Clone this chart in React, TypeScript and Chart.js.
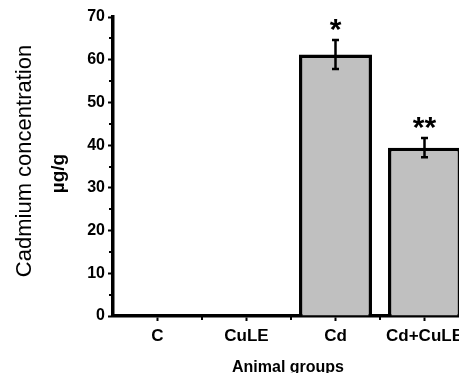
import React, { useEffect, useRef } from "react";
import { Chart, registerables } from "chart.js";

Chart.register(...registerables);

const categories = ["C", "CuLE", "Cd", "Cd+CuLE"];
const values = [0, 0, 61.2, 39.4];
const errors = [0, 0, 3.4, 2.25];
const marks = ["", "", "*", "**"];
const yTicks = [0, 10, 20, 30, 40, 50, 60, 70];
const yMinorTicks = [5, 15, 25, 35, 45, 55, 65];

const FONT = "'Liberation Sans', Arial, sans-serif";

const extrasPlugin = {
  id: "extras",
  afterDatasetsDraw(chart: any) {
    const ctx = chart.ctx;
    const y = chart.scales.y;
    const meta = chart.getDatasetMeta(0);
    ctx.save();
    ctx.strokeStyle = "#000";
    ctx.lineWidth = 2.5;
    meta.data.forEach((bar: any, i: number) => {
      const e = errors[i];
      if (!e) return;
      const cx = bar.x;
      const top = y.getPixelForValue(values[i] + e);
      const bot = y.getPixelForValue(values[i] - e);
      ctx.beginPath();
      ctx.moveTo(cx, top);
      ctx.lineTo(cx, bot);
      ctx.moveTo(cx - 3.5, top);
      ctx.lineTo(cx + 3.5, top);
      ctx.moveTo(cx - 3.5, bot);
      ctx.lineTo(cx + 3.5, bot);
      ctx.stroke();
      const m = marks[i];
      if (m) {
        ctx.fillStyle = "#000";
        ctx.font = "bold 30px " + FONT;
        ctx.textAlign = "center";
        ctx.textBaseline = "alphabetic";
        const tm = ctx.measureText(m);
        const desiredBottom = top - 9;
        ctx.fillText(m, cx, desiredBottom - tm.actualBoundingBoxDescent);
      }
    });
    ctx.restore();
  },
  afterDraw(chart: any) {
    const ctx = chart.ctx;
    const x = chart.scales.x;
    const y = chart.scales.y;
    const area = chart.chartArea;
    ctx.save();
    ctx.strokeStyle = "#000";
    ctx.lineWidth = 2;
    yMinorTicks.forEach((v) => {
      const py = Math.round(y.getPixelForValue(v));
      ctx.beginPath();
      ctx.moveTo(area.left - 4, py);
      ctx.lineTo(area.left, py);
      ctx.stroke();
    });
    for (let i = 1; i < categories.length; i++) {
      const px = (x.getPixelForValue(i - 1) + x.getPixelForValue(i)) / 2;
      ctx.beginPath();
      ctx.moveTo(px, area.bottom);
      ctx.lineTo(px, area.bottom + 4);
      ctx.stroke();
    }
    ctx.fillStyle = "#000";
    ctx.save();
    ctx.translate(31, 161);
    ctx.rotate(-Math.PI / 2);
    ctx.font = "22px " + FONT;
    ctx.textAlign = "center";
    ctx.textBaseline = "alphabetic";
    ctx.fillText("Cadmium concentration", 0, 0);
    ctx.restore();
    ctx.save();
    ctx.translate(64, 173.5);
    ctx.rotate(-Math.PI / 2);
    ctx.font = "bold 19px " + FONT;
    ctx.textAlign = "center";
    ctx.textBaseline = "alphabetic";
    ctx.fillText("µg/g", 0, 0);
    ctx.restore();
    ctx.font = "bold 16px " + FONT;
    ctx.textAlign = "center";
    ctx.textBaseline = "alphabetic";
    ctx.fillText("Animal groups", 288, 372);
    ctx.restore();
  },
};

export default function App() {
  const ref = useRef<HTMLCanvasElement | null>(null);
  useEffect(() => {
    if (!ref.current) return;
    const chart = new Chart(ref.current, {
      type: "bar",
      data: {
        labels: categories,
        datasets: [
          {
            data: values,
            backgroundColor: "#c0c0c0",
            borderColor: "#000",
            borderWidth: 3.5,
            borderSkipped: "start",
            barPercentage: 0.82,
            categoryPercentage: 1,
          },
        ],
      },
      options: {
        animation: false,
        responsive: false,
        devicePixelRatio: 1,
        layout: { padding: { left: 0, top: 17, right: 11, bottom: 0 } },
        plugins: {
          legend: { display: false },
          tooltip: { enabled: false },
        },
        scales: {
          x: {
            offset: true,
            grid: {
              offset: false,
              drawOnChartArea: false,
              drawTicks: true,
              tickLength: 5,
              tickWidth: 2,
              tickColor: "#000",
            },
            border: { display: true, color: "#000", width: 3.5 },
            ticks: {
              color: "#000",
              font: { family: FONT, size: 17, weight: "bold" },
              padding: 5,
              maxRotation: 0,
              autoSkip: false,
            },
            afterFit: (scale: any) => {
              scale.height = 57;
            },
          },
          y: {
            min: 0,
            max: 70,
            afterBuildTicks: (scale: any) => {
              scale.ticks = yTicks.map((v) => ({ value: v }));
            },
            grid: {
              drawOnChartArea: false,
              drawTicks: true,
              tickLength: 5,
              tickWidth: 2,
              tickColor: "#000",
            },
            border: { display: true, color: "#000", width: 3.5 },
            ticks: {
              color: "#000",
              font: { family: FONT, size: 16, weight: "bold" },
              padding: 3,
            },
            afterFit: (scale: any) => {
              scale.width = 113;
            },
          },
        },
      },
      plugins: [extrasPlugin],
    });
    return () => chart.destroy();
  }, []);
  return (
    <div
      style={{
        position: "fixed",
        left: 0,
        top: 0,
        width: 459,
        height: 373,
        overflow: "hidden",
        background: "#fff",
      }}
    >
      <canvas ref={ref} width={480} height={373} style={{ display: "block" }} />
    </div>
  );
}
